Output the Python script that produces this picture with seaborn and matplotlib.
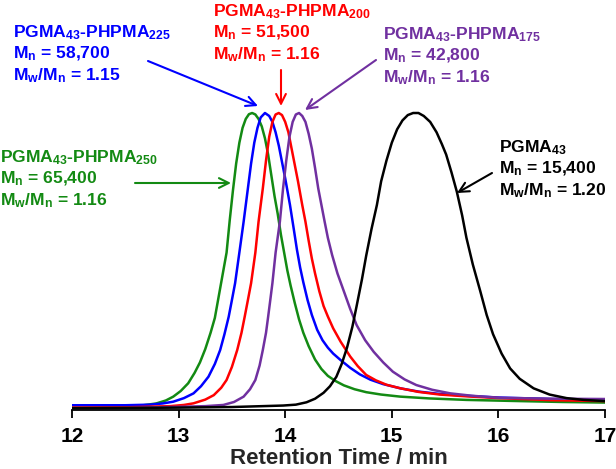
import matplotlib
matplotlib.use("Agg")
import matplotlib.pyplot as plt
import pandas as pd
import seaborn as sns

# retention time (min) / normalised RI signal
green_t = [12.0, 12.3, 12.5, 12.65, 12.79, 12.88, 12.95, 13.02, 13.09, 13.15, 13.20, 13.25, 13.30,
           13.34, 13.37, 13.40, 13.43, 13.45, 13.48, 13.51, 13.54, 13.57, 13.60, 13.63, 13.66, 13.69,
           13.72, 13.75, 13.78, 13.81, 13.84, 13.87, 13.90, 13.93, 13.96, 13.99, 14.02, 14.05, 14.09,
           14.13, 14.17, 14.22, 14.28, 14.34, 14.40, 14.47, 14.55, 14.65, 14.76, 14.9, 15.08, 15.35,
           15.7, 16.2, 16.6, 17.0]
green_y = [0.008, 0.009, 0.011, 0.015, 0.022, 0.032, 0.045, 0.064, 0.09, 0.125, 0.16, 0.205, 0.26,
           0.31, 0.37, 0.43, 0.49, 0.53, 0.64, 0.74, 0.83, 0.90, 0.95, 0.98, 0.996, 1.0,
           0.995, 0.98, 0.955, 0.915, 0.86, 0.79, 0.72, 0.66, 0.59, 0.53, 0.47, 0.42, 0.36,
           0.305, 0.26, 0.215, 0.17, 0.138, 0.115, 0.098, 0.083, 0.07, 0.06, 0.052, 0.045, 0.039,
           0.034, 0.03, 0.027, 0.025]

blue_t = [12.0, 12.5, 12.73, 12.85, 12.95, 13.05, 13.14, 13.21, 13.28, 13.34, 13.39, 13.43, 13.47,
          13.50, 13.53, 13.57, 13.61, 13.65, 13.68, 13.71, 13.74, 13.77, 13.81, 13.85, 13.88, 13.91,
          13.94, 13.97, 14.0, 14.045, 14.08, 14.11, 14.14, 14.17, 14.21, 14.25, 14.30, 14.35, 14.40,
          14.45, 14.52, 14.61, 14.70, 14.8, 14.92, 15.08, 15.25, 15.45, 15.7, 16.0, 16.5, 17.0]
blue_y = [0.016, 0.016, 0.018, 0.022, 0.028, 0.04, 0.056, 0.08, 0.112, 0.155, 0.202, 0.255, 0.314,
          0.37, 0.427, 0.53, 0.634, 0.746, 0.83, 0.90, 0.95, 0.985, 1.0, 0.99, 0.97, 0.935,
          0.89, 0.835, 0.78, 0.69, 0.61, 0.54, 0.48, 0.43, 0.37, 0.32, 0.27, 0.235, 0.21,
          0.19, 0.168, 0.142, 0.12, 0.102, 0.087, 0.073, 0.062, 0.054, 0.048, 0.042, 0.037, 0.034]

red_t = [12.0, 12.5, 12.92, 13.05, 13.14, 13.25, 13.33, 13.40, 13.45, 13.50, 13.55, 13.59, 13.62,
         13.65, 13.68, 13.72, 13.75, 13.79, 13.82, 13.85, 13.88, 13.91, 13.94, 13.97, 14.0, 14.03,
         14.06, 14.09, 14.12, 14.16, 14.19, 14.22, 14.25, 14.28, 14.32, 14.36, 14.40, 14.45, 14.52,
         14.61, 14.68, 14.76, 14.85, 14.95, 15.08, 15.25, 15.45, 15.7, 16.0, 16.5, 17.0]
red_y = [0.008, 0.009, 0.013, 0.017, 0.0225, 0.035, 0.05, 0.075, 0.101, 0.145, 0.202, 0.26, 0.314,
         0.37, 0.427, 0.53, 0.634, 0.746, 0.84, 0.92, 0.97, 0.995, 1.0, 0.993, 0.97, 0.935,
         0.88, 0.825, 0.77, 0.69, 0.634, 0.57, 0.51, 0.46, 0.40, 0.35, 0.315, 0.275, 0.23,
         0.18, 0.148, 0.118, 0.10, 0.085, 0.073, 0.061, 0.052, 0.046, 0.04, 0.033, 0.03]

purple_t = [12.0, 12.5, 13.04, 13.25, 13.42, 13.52, 13.61, 13.67, 13.72, 13.76, 13.79, 13.82, 13.84,
            13.86, 13.88, 13.91, 13.95, 13.98, 14.01, 14.04, 14.07, 14.10, 14.13, 14.16, 14.19, 14.22,
            14.25, 14.28, 14.31, 14.34, 14.37, 14.40, 14.44, 14.49, 14.55, 14.61, 14.67, 14.75, 14.83,
            14.92, 15.01, 15.12, 15.23, 15.38, 15.55, 15.75, 16.01, 16.5, 17.0]
purple_y = [0.006, 0.007, 0.011, 0.013, 0.017, 0.027, 0.045, 0.07, 0.101, 0.15, 0.202, 0.26, 0.314,
            0.37, 0.427, 0.53, 0.634, 0.746, 0.84, 0.92, 0.97, 0.995, 1.0, 0.99, 0.97, 0.93,
            0.88, 0.815, 0.746, 0.69, 0.634, 0.58, 0.522, 0.46, 0.40, 0.34, 0.286, 0.235, 0.196,
            0.16, 0.129, 0.103, 0.084, 0.068, 0.056, 0.048, 0.041, 0.038, 0.037]

black_t = [12.0, 13.0, 13.5, 13.98, 14.1, 14.2, 14.28, 14.36, 14.42, 14.48, 14.53, 14.58, 14.63,
           14.67, 14.72, 14.76, 14.81, 14.86, 14.90, 14.95, 15.0, 15.05, 15.10, 15.15, 15.20, 15.25,
           15.30, 15.36, 15.42, 15.47, 15.51, 15.56, 15.61, 15.66, 15.70, 15.76, 15.83, 15.89, 15.95,
           16.03, 16.11, 16.2, 16.33, 16.48, 16.64, 16.8, 17.0]
black_y = [0.006, 0.008, 0.010, 0.015, 0.018, 0.026, 0.038, 0.058, 0.08, 0.112, 0.155, 0.21, 0.28,
           0.35, 0.44, 0.52, 0.61, 0.69, 0.77, 0.84, 0.90, 0.945, 0.975, 0.993, 1.0, 1.0,
           0.99, 0.97, 0.935, 0.895, 0.86, 0.80, 0.735, 0.655, 0.58, 0.49, 0.40, 0.32, 0.255,
           0.19, 0.14, 0.105, 0.073, 0.052, 0.04, 0.034, 0.03]

names = ["PGMA43", "PHPMA175", "PHPMA200", "PHPMA225", "PHPMA250"]
colors = {"PGMA43": "#000000", "PHPMA175": "#7030A0", "PHPMA200": "#FF0000",
          "PHPMA225": "#0000FF", "PHPMA250": "#138A13"}

frames = []
for name, t, y in zip(names, [black_t, purple_t, red_t, blue_t, green_t],
                      [black_y, purple_y, red_y, blue_y, green_y]):
    frames.append(pd.DataFrame({"t": t, "y": y, "sample": name}))
df = pd.concat(frames, ignore_index=True)

sns.set_style("white")
plt.rcParams["font.family"] = ["Liberation Sans", "DejaVu Sans"]
plt.rcParams["font.weight"] = "bold"
plt.rcParams["mathtext.fontset"] = "custom"
plt.rcParams["mathtext.rm"] = "Liberation Sans:bold"
plt.rcParams["mathtext.bf"] = "Liberation Sans:bold"
plt.rcParams["mathtext.default"] = "rm"

W, H = 616, 469
fig = plt.figure(figsize=(W / 100, H / 100), dpi=100)
ax = fig.add_axes([72 / W, (H - 410) / H, (605 - 72) / W, (410 - 100) / H])

sns.lineplot(data=df, x="t", y="y", hue="sample", palette=colors, hue_order=names[::-1],
             estimator=None, sort=False, linewidth=1.8, legend=False, ax=ax)

ax.set_xlim(12, 17)
ax.set_ylim(0, (410 - 100) / 297)
ax.set_xticks([12, 13, 14, 15, 16, 17])
ax.set_yticks([])
ax.set_ylabel("")
ax.set_xlabel("Retention Time / min", fontsize=16, fontweight="bold", labelpad=2)
for s in ["top", "right", "left"]:
    ax.spines[s].set_visible(False)
ax.spines["bottom"].set_linewidth(1.3)
ax.spines["bottom"].set_color("black")
ax.tick_params(axis="x", direction="out", length=6, width=1.3, labelsize=15, pad=6,
               bottom=True, colors="black")


def px(x, y):
    # figure pixel -> data coordinates
    return 12 + (x - 72) / 106.6, (410 - y) / 297


labels = [
    ("PHPMA225", 13, 23, ["PGMA$_{43}$-PHPMA$_{225}$", "M$_{n}$ = 58,700", "M$_{w}$/M$_{n}$ = 1.15"],
     (148, 61), (258, 106)),
    ("PHPMA200", 213, 2, ["PGMA$_{43}$-PHPMA$_{200}$", "M$_{n}$ = 51,500", "M$_{w}$/M$_{n}$ = 1.16"],
     (281, 70), (281, 106)),
    ("PHPMA175", 383, 25, ["PGMA$_{43}$-PHPMA$_{175}$", "M$_{n}$ = 42,800", "M$_{w}$/M$_{n}$ = 1.16"],
     (376, 60), (305, 110)),
    ("PGMA43", 499, 138, ["PGMA$_{43}$", "M$_{n}$ = 15,400", "M$_{w}$/M$_{n}$ = 1.20"],
     (492, 173), (457, 193)),
    ("PHPMA250", 0, 148, ["PGMA$_{43}$-PHPMA$_{250}$", "M$_{n}$ = 65,400", "M$_{w}$/M$_{n}$ = 1.16"],
     (135, 183), (231, 183)),
]
for key, lx, ty, lines, tail, head in labels:
    c = colors[key]
    for i, line in enumerate(lines):
        fig.text(lx / W, 1 - (ty + i * 21.5) / H, line, color=c, fontsize=12.6,
                 fontweight="bold", ha="left", va="top")
    ax.annotate("", xy=px(*head), xytext=px(*tail), xycoords="data", textcoords="data",
                annotation_clip=False,
                arrowprops=dict(arrowstyle="->,head_length=0.7,head_width=0.35", color=c, lw=1.5,
                                shrinkA=0, shrinkB=0))

fig.savefig("out.png", dpi=100)
